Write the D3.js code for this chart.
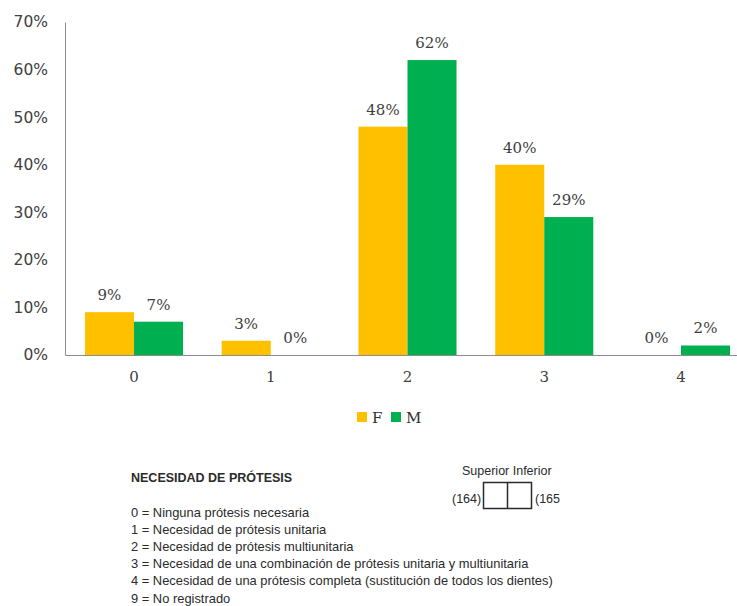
<!DOCTYPE html>
<html>
<head>
<meta charset="utf-8">
<script src="https://cdn.jsdelivr.net/npm/d3@7"></script>
<style>
  html, body { margin: 0; padding: 0; background: #fff; }
  svg { display: block; }
</style>
</head>
<body>
<svg id="chart" width="737" height="606"></svg>
<script>
const categories = ["0", "1", "2", "3", "4"];
const seriesNames = ["F", "M"];
const valuesF = [0.09, 0.03, 0.48, 0.40, 0.00];
const valuesM = [0.07, 0.00, 0.62, 0.29, 0.02];
const yTicks = [0, 0.1, 0.2, 0.3, 0.4, 0.5, 0.6, 0.7];
const colors = ["#FFC000", "#00B050"];

const legendTitle = "NECESIDAD DE PRÓTESIS";
const legendLines = [
  "0 = Ninguna prótesis necesaria",
  "1 = Necesidad de prótesis unitaria",
  "2 = Necesidad de prótesis multiunitaria",
  "3 = Necesidad de una combinación de prótesis unitaria y multiunitaria",
  "4 = Necesidad de una prótesis completa (sustitución de todos los dientes)",
  "9 = No registrado"
];
const boxHeader = "Superior Inferior";
const boxCodes = ["(164)", "(165"];

const seriesValues = [valuesF, valuesM];
const svg = d3.select("#chart");

const x = d3.scaleBand().domain(categories).range([65, 750])
  .paddingInner(0.283).paddingOuter(0.146);
const xs = d3.scaleBand().domain(seriesNames).range([0, x.bandwidth()]);
const y = d3.scaleLinear().domain([0, 0.7]).range([355, 22]);
const color = d3.scaleOrdinal().domain(seriesNames).range(colors);
const pct = d3.format(".0%");

const serif = "'DejaVu Serif', Cambria, serif";
const sans = "'DejaVu Sans', Verdana, sans-serif";

// Y axis
const yAxis = svg.append("g").attr("transform", "translate(65,0)")
  .call(d3.axisLeft(y).tickValues(yTicks).tickFormat(pct).tickSize(0).tickPadding(17));
yAxis.select(".domain").attr("stroke", "#8c8c8c");
yAxis.selectAll("text").attr("font-family", sans).attr("font-size", 15.5).attr("fill", "#404040");

// X axis
const xAxis = svg.append("g").attr("transform", "translate(0,355)")
  .call(d3.axisBottom(x).tickSize(0).tickPadding(16));
xAxis.select(".domain").attr("stroke", "#8c8c8c");
xAxis.selectAll("text").attr("font-family", serif).attr("font-size", 15).attr("fill", "#404040");

// Bars
const data = [];
categories.forEach((c, i) => seriesNames.forEach((s, j) => data.push({cat: c, ser: s, v: seriesValues[j][i]})));

svg.append("g").selectAll("rect").data(data.filter(d => d.v > 0)).join("rect")
  .attr("x", d => x(d.cat) + xs(d.ser))
  .attr("y", d => y(d.v))
  .attr("width", xs.bandwidth())
  .attr("height", d => y(0) - y(d.v))
  .attr("fill", d => color(d.ser));

svg.append("g").selectAll("text").data(data).join("text")
  .attr("x", d => x(d.cat) + xs(d.ser) + xs.bandwidth() / 2)
  .attr("y", d => y(d.v) - 12)
  .attr("text-anchor", "middle")
  .attr("font-family", serif).attr("font-size", 15).attr("fill", "#404040")
  .text(d => pct(d.v));

// Legend
const leg = svg.append("g").attr("transform", "translate(357,417)");
const legX = [0, 34];
seriesNames.forEach((s, i) => {
  const g = leg.append("g").attr("transform", `translate(${legX[i]},0)`);
  g.append("rect").attr("x", 0).attr("y", -5).attr("width", 10).attr("height", 10).attr("fill", color(s));
  g.append("text").attr("x", 15).attr("y", 5.5).attr("font-family", serif).attr("font-size", 15)
    .attr("fill", "#303030").text(s);
});

// Description block (code legend)
const desc = svg.append("g").attr("font-family", "'Liberation Sans', Arial, sans-serif").attr("fill", "#2a2a2a");
desc.append("text").attr("x", 131).attr("y", 482).attr("font-size", 12.5).attr("font-weight", "bold")
  .text(legendTitle);
desc.selectAll("text.line").data(legendLines).join("text").attr("class", "line")
  .attr("x", 131).attr("y", (d, i) => 516.5 + i * 17.2)
  .attr("font-size", 12.9).text(d => d);

desc.append("text").attr("x", 462).attr("y", 474.5).attr("font-size", 12.5).text(boxHeader);
desc.append("text").attr("x", 452).attr("y", 503).attr("font-size", 12.5).text(boxCodes[0]);
desc.append("text").attr("x", 535).attr("y", 503).attr("font-size", 12.5).text(boxCodes[1]);
desc.append("rect").attr("x", 483.5).attr("y", 482.5).attr("width", 48).attr("height", 26)
  .attr("fill", "none").attr("stroke", "#2a2a2a").attr("stroke-width", 1.5);
desc.append("line").attr("x1", 507.5).attr("x2", 507.5).attr("y1", 482.5).attr("y2", 508.5)
  .attr("stroke", "#2a2a2a").attr("stroke-width", 1.5);
</script>
</body>
</html>
